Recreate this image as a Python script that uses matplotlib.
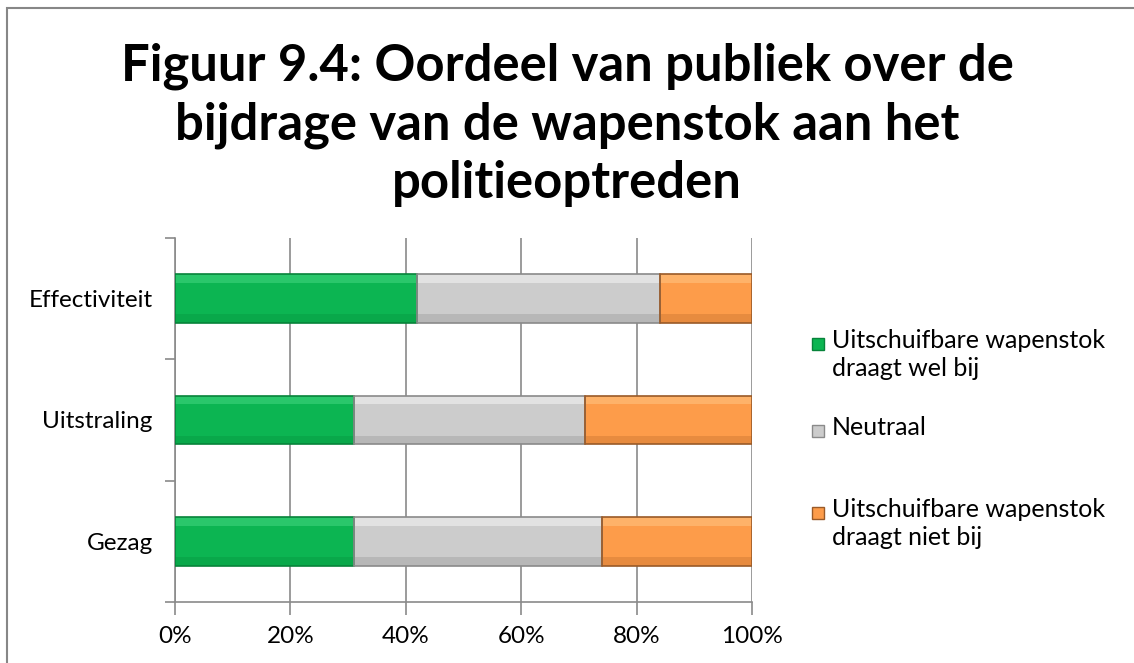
import matplotlib.pyplot as plt
from matplotlib.patches import Rectangle

categories = ["Gezag", "Uitstraling", "Effectiviteit"]
wel_bij = [31, 31, 42]
neutraal = [43, 40, 42]
niet_bij = [26, 29, 16]
series_labels = ["Uitschuifbare wapenstok\ndraagt wel bij", "Neutraal",
                 "Uitschuifbare wapenstok\ndraagt niet bij"]
x_ticks = [0, 20, 40, 60, 80, 100]

colors = ["#0cb552", "#cccccc", "#fd9c4a"]
lights = ["#3fd47c", "#f2f2f2", "#ffc17f"]
darks = ["#08a045", "#a9a9a9", "#d98038"]
edges = ["#07833a", "#8a8a8a", "#9a5a28"]

plt.rcParams['font.family'] = ['Lato', 'DejaVu Sans']

fig = plt.figure(figsize=(11.34, 6.63), dpi=100)
W, H = 1134, 663

# outer chart frame
fig.patches.append(Rectangle((7 / W, -0.1), 1.2, 1 - 8 / H + 0.1, transform=fig.transFigure,
                             fill=False, edgecolor="#878787", linewidth=1.5))

ax = fig.add_axes([175 / W, 1 - 602 / H, (752 - 175) / W, (602 - 238) / H])

y = list(range(len(categories)))
bh = 0.4
left = [0] * len(categories)
for vals, c, lc, dc, e in zip([wel_bij, neutraal, niet_bij], colors, lights, darks, edges):
    ax.barh(y, vals, left=left, height=bh, color=c, linewidth=0, zorder=3)
    # simple bevel: light band on top, darker band at bottom
    ax.barh([v + bh / 2 - 0.035 for v in y], vals, left=left, height=0.07,
            color=lc, linewidth=0, zorder=3, alpha=0.6)
    ax.barh([v - bh / 2 + 0.035 for v in y], vals, left=left, height=0.07,
            color=dc, linewidth=0, zorder=3, alpha=0.6)
    ax.barh(y, vals, left=left, height=bh, fill=False, edgecolor=e, linewidth=1.2, zorder=4)
    left = [l + v for l, v in zip(left, vals)]

ax.set_xlim(0, 100)
ax.set_ylim(-0.5, len(categories) - 0.5)
ax.set_xticks(x_ticks)
ax.set_xticklabels([f"{t}%" for t in x_ticks], fontsize=17.5)
ax.xaxis.grid(True, color="#8a8a8a", linewidth=1.2, zorder=0)

ax.set_yticks([i - 0.5 for i in range(len(categories) + 1)])
ax.set_yticklabels([])
ax.set_yticks(y, minor=True)
ax.set_yticklabels(categories, minor=True, fontsize=17.5)
ax.tick_params(axis="y", which="minor", length=0, pad=16)
ax.tick_params(axis="y", which="major", length=7, color="#8a8a8a", width=1.2)
ax.tick_params(axis="x", length=9, color="#8a8a8a", width=1.2, pad=8)

for s in ["top", "right"]:
    ax.spines[s].set_visible(False)
for s in ["left", "bottom"]:
    ax.spines[s].set_color("#8a8a8a")
    ax.spines[s].set_linewidth(1.2)

fig.text(567 / W, 1 - 125 / H,
         "Figuur 9.4: Oordeel van publiek over de\nbijdrage van de wapenstok aan het\npolitieoptreden",
         ha="center", va="center", fontsize=36.5, fontweight="bold", linespacing=1.3)

# legend
legend_y = [343, 430, 512]
for lab, c, e, ly in zip(series_labels, colors, edges, legend_y):
    fig.patches.append(Rectangle((812 / W, 1 - (ly + 7) / H), 12 / W, 12 / H,
                                 transform=fig.transFigure, facecolor=c, edgecolor=e, linewidth=1))
    fig.text(832 / W, 1 - (ly - 14) / H, lab, ha="left", va="top", fontsize=18, linespacing=1.25)

fig.savefig("out.png", dpi=100)
